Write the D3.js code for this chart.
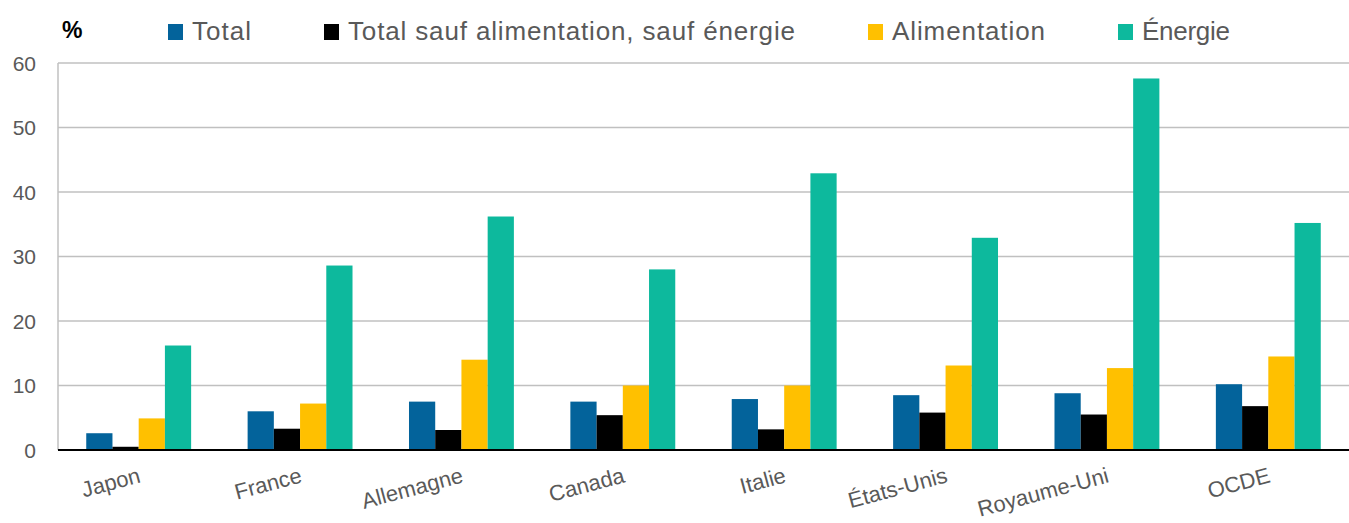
<!DOCTYPE html>
<html>
<head>
<meta charset="utf-8">
<script src="https://cdn.jsdelivr.net/npm/d3@7"></script>
<style>
  body { margin: 0; background: #fff; }
  svg text { font-family: "Liberation Sans", Arial, sans-serif; }
</style>
</head>
<body>
<svg id="chart"></svg>
<script>
// Data
const pays = ["Japon", "France", "Allemagne", "Canada", "Italie", "États-Unis", "Royaume-Uni", "OCDE"];
const series = ["Total", "Total sauf alimentation, sauf énergie", "Alimentation", "Énergie"];
const total = [2.6, 6.0, 7.5, 7.5, 7.9, 8.5, 8.8, 10.2];
const sousJacent = [0.5, 3.3, 3.1, 5.4, 3.2, 5.8, 5.5, 6.8];
const alimentation = [4.9, 7.2, 14.0, 10.0, 10.0, 13.1, 12.7, 14.5];
const energie = [16.2, 28.6, 36.2, 28.0, 42.9, 32.9, 57.6, 35.2];
const yTicks = [0, 10, 20, 30, 40, 50, 60];

const colors = ["#03639b", "#000000", "#ffc000", "#0db99d"];
const values = [total, sousJacent, alimentation, energie];

const data = pays.map((p, i) => ({
    pays: p,
    vals: series.map((s, j) => ({ key: s, idx: j, value: values[j][i] }))
}));

const width = 1349, height = 523;
const margin = {top: 63, bottom: 73, left: 58, right: 0};

const svg = d3.select("#chart")
    .attr("width", width)
    .attr("height", height);

// Scales
const x0 = d3.scaleBand()
    .domain(pays)
    .range([margin.left, width - margin.right])
    .paddingInner(0.35)
    .paddingOuter(0.175);

const x1 = d3.scaleBand()
    .domain(d3.range(series.length))
    .range([0, x0.bandwidth()]);

const y = d3.scaleLinear()
    .domain([0, 60])
    .range([height - margin.bottom, margin.top]);

// gridlines
svg.append("g")
    .selectAll("line")
    .data(yTicks.filter(t => t > 0))
    .enter().append("line")
    .attr("x1", margin.left)
    .attr("x2", width - margin.right)
    .attr("y1", d => y(d))
    .attr("y2", d => y(d))
    .attr("stroke", "#c0c0c0")
    .attr("stroke-width", 1.5);

// left axis line
svg.append("line")
    .attr("x1", margin.left)
    .attr("x2", margin.left)
    .attr("y1", y(60))
    .attr("y2", y(0))
    .attr("stroke", "#c0c0c0")
    .attr("stroke-width", 1.5);

// y tick labels
svg.append("g")
    .selectAll("text")
    .data(yTicks)
    .enter().append("text")
    .attr("x", 36)
    .attr("y", d => y(d))
    .attr("dy", "0.36em")
    .attr("text-anchor", "end")
    .attr("fill", "#595959")
    .style("font-size", "21px")
    .text(d => d);

// bars
const groups = svg.append("g")
    .selectAll("g")
    .data(data)
    .enter().append("g")
    .attr("transform", d => `translate(${x0(d.pays)},0)`);

groups.selectAll("rect")
    .data(d => d.vals)
    .enter().append("rect")
    .attr("x", d => x1(d.idx))
    .attr("y", d => y(d.value))
    .attr("width", x1.bandwidth())
    .attr("height", d => y(0) - y(d.value))
    .attr("fill", d => colors[d.idx]);

// zero line
svg.append("line")
    .attr("x1", margin.left)
    .attr("x2", width - margin.right)
    .attr("y1", y(0))
    .attr("y2", y(0))
    .attr("stroke", "#000")
    .attr("stroke-width", 2);

// x labels (rotated)
svg.append("g")
    .selectAll("text")
    .data(pays)
    .enter().append("text")
    .attr("transform", d => `translate(${x0(d) + x0.bandwidth() / 2 + 3},${y(0) + 32}) rotate(-15)`)
    .attr("text-anchor", "end")
    .attr("fill", "#595959")
    .style("font-size", "22px")
    .text(d => d);

// % label
svg.append("text")
    .attr("x", 62)
    .attr("y", 38)
    .attr("fill", "#000")
    .style("font-size", "23px")
    .style("font-weight", "bold")
    .text("%");

// legend
const legendX = [168, 324, 868, 1118];
const legendLen = [59, 447, 153, 88];
const legend = svg.append("g")
    .selectAll("g")
    .data(series)
    .enter().append("g")
    .attr("transform", (d, i) => `translate(${legendX[i]},24)`);

legend.append("rect")
    .attr("width", 15)
    .attr("height", 16)
    .attr("fill", (d, i) => colors[i]);

legend.append("text")
    .attr("x", 24)
    .attr("y", 16)
    .attr("fill", "#595959")
    .attr("textLength", (d, i) => legendLen[i])
    .attr("lengthAdjust", "spacing")
    .style("font-size", "26px")
    .text(d => d);
</script>
</body>
</html>
